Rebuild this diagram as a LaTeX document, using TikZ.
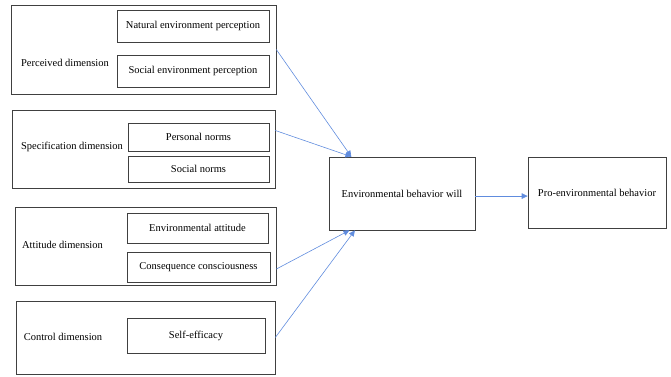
\documentclass[tikz,border=0pt]{standalone}
\usepackage{fontspec}
\setmainfont{Liberation Serif}
\usepackage{tikz}
\usetikzlibrary{arrows.meta}
\definecolor{linkblue}{RGB}{96,140,222}
\tikzstyle{group} = [rectangle, draw=black!75, line width=0.6pt]
\tikzstyle{item} = [rectangle, draw=black!75, line width=0.6pt, text centered]
\tikzstyle{label} = [text centered]
\tikzstyle{arrow} = [linkblue, line width=0.6pt, -{Triangle[length=6pt,width=5.5pt]}]

\begin{document}
\begin{tikzpicture}[x=1pt, y=-1pt, font=\fontsize{10.5}{12}\selectfont]
\useasboundingbox (0,0) rectangle (671,376);
% left groups
\node (perc) [group, minimum width=265pt, minimum height=89pt] at (143.5,49.5) {};
\node (natural) [item, minimum width=152pt, minimum height=32pt] at (193,26) {Natural environment perception};
\node (socEnv) [item, minimum width=152pt, minimum height=32pt] at (193,71) {Social environment perception};
\node (percLbl) [label] at (65,63) {Perceived dimension};

\node (spec) [group, minimum width=263pt, minimum height=78pt] at (143.5,149) {};
\node (personal) [item, minimum width=141pt, minimum height=28pt] at (198.5,137) {Personal norms};
\node (socNorms) [item, minimum width=141pt, minimum height=26pt] at (198.5,169) {Social norms};
\node (specLbl) [label] at (72,147) {Specification dimension};

\node (att) [group, minimum width=261pt, minimum height=78pt] at (145.5,246) {};
\node (envAtt) [item, minimum width=141pt, minimum height=30pt] at (197.5,228) {Environmental attitude};
\node (conseq) [item, minimum width=143pt, minimum height=30pt] at (198.5,267) {Consequence consciousness};
\node (attLbl) [label] at (62.5,245) {Attitude dimension};

\node (ctrl) [group, minimum width=259pt, minimum height=73pt] at (145.5,337.5) {};
\node (selfEff) [item, minimum width=138pt, minimum height=35pt] at (196,335.5) {Self-efficacy};
\node (ctrlLbl) [label] at (63,337) {Control dimension};

% right side
\node (will) [item, minimum width=146pt, minimum height=73pt] at (402,193.5) {Environmental behavior will};
\node (pro) [item, minimum width=138pt, minimum height=71pt] at (597,192.5) {Pro-environmental behavior};

\draw [arrow] (perc.east) -- (will.144);
\draw [arrow] (spec.8) -- (will.144);
\draw [arrow] (att.-10) -- (will.215);
\draw [arrow] (ctrl.east) -- (will.218);
\draw [arrow] (will.-2) -- (will.-2 -| pro.west);
\end{tikzpicture}
\end{document}
